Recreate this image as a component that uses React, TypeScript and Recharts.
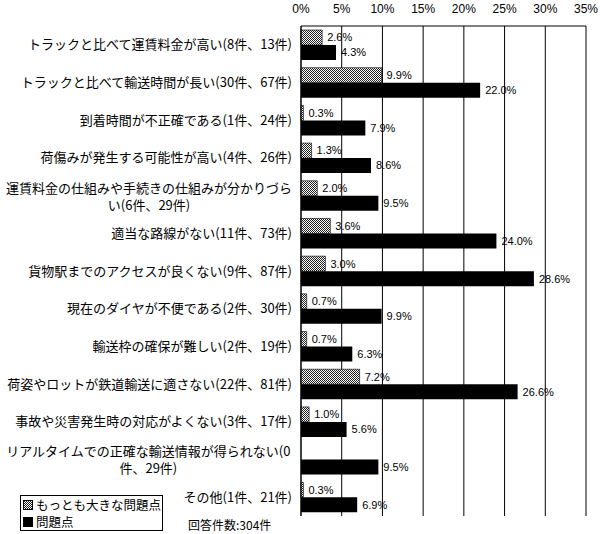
import React from 'react';
import { BarChart, Bar, XAxis, YAxis, CartesianGrid, LabelList, Legend } from 'recharts';

const categories = [
  'トラックと比べて運賃料金が高い(8件、13件)',
  'トラックと比べて輸送時間が長い(30件、67件)',
  '到着時間が不正確である(1件、24件)',
  '荷傷みが発生する可能性が高い(4件、26件)',
  '運賃料金の仕組みや手続きの仕組みが分かりづら\nい(6件、29件)',
  '適当な路線がない(11件、73件)',
  '貨物駅までのアクセスが良くない(9件、87件)',
  '現在のダイヤが不便である(2件、30件)',
  '輸送枠の確保が難しい(2件、19件)',
  '荷姿やロットが鉄道輸送に適さない(22件、81件)',
  '事故や災害発生時の対応がよくない(3件、17件)',
  'リアルタイムでの正確な輸送情報が得られない(0\n件、29件)',
  'その他(1件、21件)',
];
const biggestProblem = [2.6, 9.9, 0.3, 1.3, 2.0, 3.6, 3.0, 0.7, 0.7, 7.2, 1.0, 0.0, 0.3];
const problem = [4.3, 22.0, 7.9, 8.6, 9.5, 24.0, 28.6, 9.9, 6.3, 26.6, 5.6, 9.5, 6.9];
const xTicks = [0, 5, 10, 15, 20, 25, 30, 35];
const seriesNames = ['もっとも大きな問題点', '問題点'];
const totalNote = '回答件数:304件';

const data = categories.map((name, i) => ({ name, a: biggestProblem[i], b: problem[i] }));

const JP = '"Noto Sans CJK JP", "Noto Sans", sans-serif';
const NUM = '"Liberation Sans", Arial, sans-serif';

const textWidth = (s: string, fs: number) => {
  let w = 0;
  for (const ch of s) w += ch.charCodeAt(0) > 255 ? fs : fs * 0.55;
  return w;
};

const YTick = (props: any) => {
  const { x, y, payload } = props;
  const fs = 13;
  const lines: string[] = String(payload.value).split('\n');
  const right = x - 1;
  if (lines.length === 1) {
    return (
      <text x={right} y={y} dy={4.5} textAnchor="end" fontSize={fs} fontFamily={JP} fill="#000">
        {lines[0]}
      </text>
    );
  }
  const cx = right - textWidth(lines[0], fs) / 2;
  const lh = 17;
  const start = y - ((lines.length - 1) * lh) / 2 + 1;
  return (
    <g>
      {lines.map((l, i) => (
        <text
          key={i}
          x={cx}
          y={start + i * lh}
          dy={4.5}
          textAnchor="middle"
          fontSize={fs}
          fontFamily={JP}
          fill="#000"
        >
          {l}
        </text>
      ))}
    </g>
  );
};

const XTick = (props: any) => {
  const { x, payload } = props;
  return (
    <text x={x} y={13} textAnchor="middle" fontSize={12} fontFamily={NUM} fill="#000">
      {payload.value}%
    </text>
  );
};

const LegendContent = () => (
  <div
    style={{
      width: 143,
      height: 36,
      border: '1px solid #000',
      fontFamily: JP,
      fontSize: 12.5,
      lineHeight: '17px',
      color: '#000',
      background: '#fff',
      boxSizing: 'border-box',
      paddingLeft: 2,
      paddingTop: 0,
      whiteSpace: 'nowrap',
      textAlign: 'left',
    }}
  >
    <div style={{ display: 'flex', alignItems: 'center', height: 17 }}>
      <svg width={10} height={10} style={{ marginRight: 3 }}>
        <rect x={0.5} y={0.5} width={9} height={9} fill="url(#dots)" stroke="#000" />
      </svg>
      <span>{seriesNames[0]}</span>
    </div>
    <div style={{ display: 'flex', alignItems: 'center', height: 17 }}>
      <svg width={10} height={10} style={{ marginRight: 3 }}>
        <rect x={0} y={0} width={10} height={10} fill="#000" />
      </svg>
      <span>{seriesNames[1]}</span>
    </div>
  </div>
);

const labelFmt = (v: any) => `${Number(v).toFixed(1)}%`;

export default function App() {
  return (
    <div style={{ position: 'absolute', left: 0, top: 0, width: 600, height: 534, background: '#fff' }}>
      <BarChart
        width={600}
        height={534}
        data={data}
        layout="vertical"
        margin={{ top: 6, right: 14, bottom: 18, left: 0 }}
        barSize={15}
        barGap={0}
      >
        <defs>
          <pattern id="dots" width={2} height={2} patternUnits="userSpaceOnUse">
            <rect x={0} y={0} width={2} height={2} fill="#fff" />
            <rect x={0} y={0} width={1} height={1} fill="#222" />
            <rect x={1} y={1} width={1} height={1} fill="#222" />
          </pattern>
        </defs>
        <CartesianGrid horizontal={false} vertical stroke="#000" strokeWidth={1} />
        <XAxis
          type="number"
          orientation="top"
          domain={[0, 35]}
          ticks={xTicks}
          height={20}
          tick={<XTick />}
          tickLine={false}
          axisLine={{ stroke: '#000' }}
          interval={0}
        />
        <XAxis
          xAxisId="bottom"
          type="number"
          orientation="bottom"
          domain={[0, 35]}
          height={0}
          tick={false}
          tickLine={false}
          axisLine={{ stroke: '#000' }}
        />
        <YAxis
          type="category"
          dataKey="name"
          width={301}
          tick={<YTick />}
          tickLine={false}
          axisLine={{ stroke: '#000' }}
          interval={0}
        />
        <Legend
          verticalAlign="middle"
          align="center"
          layout="horizontal"
          content={<LegendContent />}
          wrapperStyle={{ position: 'absolute', left: 20, top: 495, width: 143, height: 36, bottom: 'auto', right: 'auto' }}
        />
        <Bar dataKey="a" name={seriesNames[0]} fill="url(#dots)" stroke="#000" strokeWidth={0.6} isAnimationActive={false}>
          <LabelList dataKey="a" position="right" offset={5} formatter={labelFmt} fontSize={11} fontFamily={NUM} fill="#000" />
        </Bar>
        <Bar dataKey="b" name={seriesNames[1]} fill="#000" isAnimationActive={false}>
          <LabelList dataKey="b" position="right" offset={5} formatter={labelFmt} fontSize={11} fontFamily={NUM} fill="#000" />
        </Bar>
      </BarChart>
      <div
        style={{
          position: 'absolute',
          left: 188,
          top: 517,
          fontFamily: JP,
          fontSize: 12,
          lineHeight: '16px',
          color: '#000',
          whiteSpace: 'nowrap',
        }}
      >
        {totalNote}
      </div>
    </div>
  );
}
